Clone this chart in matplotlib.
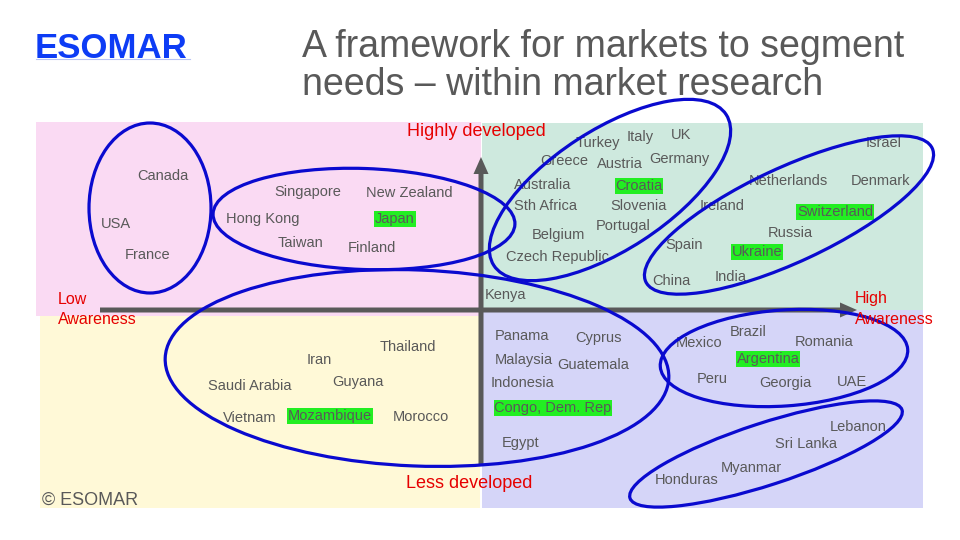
import matplotlib
matplotlib.use("Agg")
import matplotlib.pyplot as plt
from matplotlib.patches import Rectangle, Ellipse

plt.rcParams['font.family'] = ['Liberation Sans', 'DejaVu Sans']

# awareness (x) and development (y), measured from where the two axes cross
countries = ['Canada', 'USA', 'France', 'Singapore', 'New Zealand', 'Hong Kong', 'Japan', 'Taiwan', 'Finland',
             'Turkey', 'Italy', 'UK', 'Greece', 'Austria', 'Germany', 'Australia', 'Croatia', 'Sth Africa',
             'Slovenia', 'Ireland', 'Portugal', 'Belgium', 'Czech Republic', 'Spain', 'China', 'India',
             'Ukraine', 'Russia', 'Netherlands', 'Switzerland', 'Israel', 'Denmark', 'Kenya',
             'Thailand', 'Iran', 'Guyana', 'Saudi Arabia', 'Vietnam', 'Mozambique', 'Morocco',
             'Panama', 'Cyprus', 'Malaysia', 'Guatemala', 'Indonesia', 'Congo, Dem. Rep', 'Egypt',
             'Mexico', 'Brazil', 'Romania', 'Argentina', 'Peru', 'Georgia', 'UAE',
             'Lebanon', 'Sri Lanka', 'Myanmar', 'Honduras']
awareness = [-318, -365, -333, -173, -72, -218, -86, -180, -109,
             117, 159, 200, 83, 139, 198, 62, 158, 64,
             158, 241, 142, 77, 76, 203, 190, 250,
             276, 309, 307, 354, 403, 400, 25,
             -73, -162, -123, -231, -231, -151, -60,
             41, 118, 43, 112, 42, 72, 40,
             218, 267, 343, 287, 231, 304, 371,
             377, 325, 270, 206]
development = [134, 86, 55, 118, 117, 91, 91, 67, 62,
               167, 173, 175, 149, 146, 151, 125, 124, 104,
               104, 104, 84, 75, 53, 65, 29, 33,
               58, 77, 129, 98, 167, 129, 15,
               -37, -50, -72, -76, -108, -106, -107,
               -26, -28, -50, -55, -73, -98, -133,
               -33, -22, -32, -49, -69, -73, -72,
               -117, -134, -158, -170]
highlighted = ['Japan', 'Croatia', 'Ukraine', 'Switzerland', 'Mozambique', 'Congo, Dem. Rep', 'Argentina']

# segment groupings: centre, width, height, tilt
group_centres = [(-331, 102), (-117, 91), (129, 120), (308, 95), (-64, -58), (303, -48), (285, -144)]
group_widths = [122, 302, 277, 316, 504, 248, 286]
group_heights = [170, 101, 120, 94, 196, 96, 62]
group_angles = [0, -2, 33, 25, -2.3, 4, 18]

GRAY = '#595959'
RED = '#E60000'
BLUE = '#0A0ACF'

fig = plt.figure(figsize=(9.6, 5.4), dpi=100)
ax = fig.add_axes([0, 0, 1, 1])
ax.set_xlim(-481, 479)
ax.set_ylim(-230, 310)
ax.axis('off')

def px(x, y):
    # picture pixel -> chart coords
    return x - 481, 310 - y

# quadrant backgrounds
for (x0, y0, x1, y1), c in [((36, 122, 481, 316), '#FADAF3'),
                            ((482, 123, 923, 310), '#CEE9DE'),
                            ((40, 316, 480, 508), '#FFF9D7'),
                            ((482, 310, 923, 508), '#D5D5F8')]:
    a, b = px(x0, y1)
    ax.add_patch(Rectangle((a, b), x1 - x0, y1 - y0, fc=c, ec='none', zorder=0))

# axes arrows
ax.arrow(*px(100, 310), 757, 0, width=5, head_width=15, head_length=17,
         length_includes_head=True, fc=GRAY, ec='none', zorder=2)
ax.arrow(*px(481, 465), 0, 308, width=5, head_width=15, head_length=17,
         length_includes_head=True, fc=GRAY, ec='none', zorder=2)

# country labels
for name, x, y in zip(countries, awareness, development):
    kw = {}
    if name in highlighted:
        kw['bbox'] = dict(boxstyle='square,pad=0.05', fc='#22EE22', ec='none')
    ax.text(x, y, name, fontsize=10.5, color=GRAY, ha='center', va='center', zorder=3, **kw)

# groups
for c, w, h, ang in zip(group_centres, group_widths, group_heights, group_angles):
    ax.add_patch(Ellipse(c, w, h, angle=ang, fill=False, ec=BLUE, lw=2.3, zorder=4))

# axis labels
ax.text(*px(476, 131), 'Highly developed', fontsize=13, color=RED, ha='center', va='center', zorder=5)
ax.text(*px(469, 484), 'Less developed', fontsize=13, color=RED, ha='center', va='center', zorder=5)
ax.text(*px(58, 299), 'Low', fontsize=11.5, color=RED, ha='left', va='center', zorder=5)
ax.text(*px(58, 319), 'Awareness', fontsize=11.5, color=RED, ha='left', va='center', zorder=5)
ax.text(*px(855, 299), 'High', fontsize=11.5, color=RED, ha='left', va='center', zorder=5)
ax.text(*px(855, 319), 'Awareness', fontsize=11.5, color=RED, ha='left', va='center', zorder=5)

# header
ax.text(*px(302, 57), 'A framework for markets to segment', fontsize=27, color=GRAY, ha='left', va='baseline')
ax.text(*px(302, 95), 'needs \u2013 within market research', fontsize=27, color=GRAY, ha='left', va='baseline')
ax.text(*px(35, 58), 'ESOMAR', fontsize=25, fontweight='bold', color='#0D3CF5', ha='left', va='baseline')
ax.plot(*zip(px(36, 59), px(190, 59)), color='#B8C4F4', lw=0.8)
ax.text(*px(42, 500), '\u00a9 ESOMAR', fontsize=13, color=GRAY, ha='left', va='center', zorder=5)

fig.savefig('out.png', dpi=100)
